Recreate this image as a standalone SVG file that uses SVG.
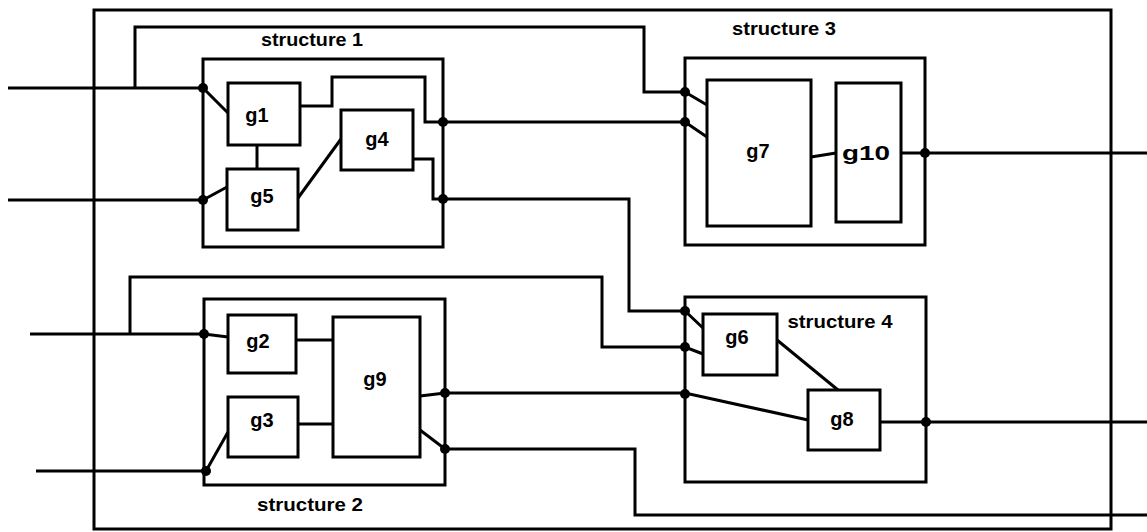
<svg xmlns="http://www.w3.org/2000/svg" width="1147" height="532" viewBox="0 0 1147 532">
<style>
.box{fill:none;stroke:#000;stroke-width:3;stroke-linejoin:miter}
.w{fill:none;stroke:#000;stroke-width:3;stroke-linejoin:miter}
.d{fill:#000}
.sl{font-family:"Liberation Sans",Arial,sans-serif;font-weight:bold;font-size:19px;text-anchor:middle}
.gl{font-family:"Liberation Sans",Arial,sans-serif;font-weight:bold;font-size:20px;text-anchor:middle}
</style>
<rect width="1147" height="532" fill="#fff"/>
<g id="outer"><rect class="box" x="94" y="10" width="1017" height="519"/></g>
<g id="structure1"><rect class="box" x="203" y="59" width="240" height="188"/><text class="sl" x="312" y="46" textLength="102" lengthAdjust="spacingAndGlyphs">structure 1</text></g>
<g id="structure2"><rect class="box" x="204" y="299" width="241" height="186"/><text class="sl" x="310" y="511" textLength="106" lengthAdjust="spacingAndGlyphs">structure 2</text></g>
<g id="structure3"><rect class="box" x="685" y="58" width="240" height="187"/><text class="sl" x="784" y="35" textLength="104" lengthAdjust="spacingAndGlyphs">structure 3</text></g>
<g id="structure4"><rect class="box" x="685" y="297" width="241" height="185"/><text class="sl" x="840" y="328" textLength="105" lengthAdjust="spacingAndGlyphs">structure 4</text></g>
<g id="g1"><rect class="box" x="228" y="83" width="72" height="62"/><text class="gl" x="257" y="122">g1</text></g>
<g id="g5"><rect class="box" x="227" y="169" width="71" height="61"/><text class="gl" x="262" y="203">g5</text></g>
<g id="g4"><rect class="box" x="341" y="110" width="72" height="60"/><text class="gl" x="377" y="146">g4</text></g>
<g id="g2"><rect class="box" x="228" y="315" width="68" height="58"/><text class="gl" x="258" y="348">g2</text></g>
<g id="g3"><rect class="box" x="228" y="397" width="70" height="60"/><text class="gl" x="262" y="427">g3</text></g>
<g id="g9"><rect class="box" x="333" y="317" width="87" height="140"/><text class="gl" x="375" y="386">g9</text></g>
<g id="g7"><rect class="box" x="707" y="80" width="104" height="146"/><text class="gl" x="758" y="158">g7</text></g>
<g id="g10"><rect class="box" x="836" y="83" width="65" height="139"/><text class="gl" x="866" y="160" textLength="48" lengthAdjust="spacingAndGlyphs">g10</text></g>
<g id="g6"><rect class="box" x="703" y="314" width="74" height="61"/><text class="gl" x="737" y="344">g6</text></g>
<g id="g8"><rect class="box" x="808" y="390" width="72" height="60"/><text class="gl" x="842" y="426">g8</text></g>
<g id="connectors">
<path class="w" d="M8,88 H203 L228,113"/>
<path class="w" d="M135,88 V27 H644 V92 H685 L707,105"/>
<path class="w" d="M8,200 H203 L227,187"/>
<path class="w" d="M257,145 V169"/>
<path class="w" d="M298,198 L341,139"/>
<path class="w" d="M300,106 H332 V77 H425 V122 H685 L707,137"/>
<path class="w" d="M413,159 H433 V199 H629 V311 H685 L703,328"/>
<path class="w" d="M811,157 L836,153"/>
<path class="w" d="M901,153 H1147"/>
<path class="w" d="M30,334 H204 L228,337"/>
<path class="w" d="M130,334 V277 H602 V347 H685 L703,354"/>
<path class="w" d="M36,471 H206 L228,432"/>
<path class="w" d="M296,340 H333"/>
<path class="w" d="M298,424 H333"/>
<path class="w" d="M420,396 L445,393 H685 L808,420"/>
<path class="w" d="M420,430 L445,449 H635 V515 H1147"/>
<path class="w" d="M777,340 L838,390"/>
<path class="w" d="M880,422 H1147"/>
<circle class="d" cx="203" cy="88" r="5"/>
<circle class="d" cx="203" cy="200" r="5"/>
<circle class="d" cx="443" cy="122" r="5"/>
<circle class="d" cx="443" cy="199" r="5"/>
<circle class="d" cx="685" cy="92" r="5"/>
<circle class="d" cx="685" cy="122" r="5"/>
<circle class="d" cx="925" cy="153" r="5"/>
<circle class="d" cx="204" cy="334" r="5"/>
<circle class="d" cx="206" cy="471" r="5"/>
<circle class="d" cx="445" cy="393" r="5"/>
<circle class="d" cx="445" cy="449" r="5"/>
<circle class="d" cx="685" cy="311" r="5"/>
<circle class="d" cx="685" cy="347" r="5"/>
<circle class="d" cx="685" cy="394" r="5"/>
<circle class="d" cx="926" cy="422" r="5"/>
</g>
</svg>
